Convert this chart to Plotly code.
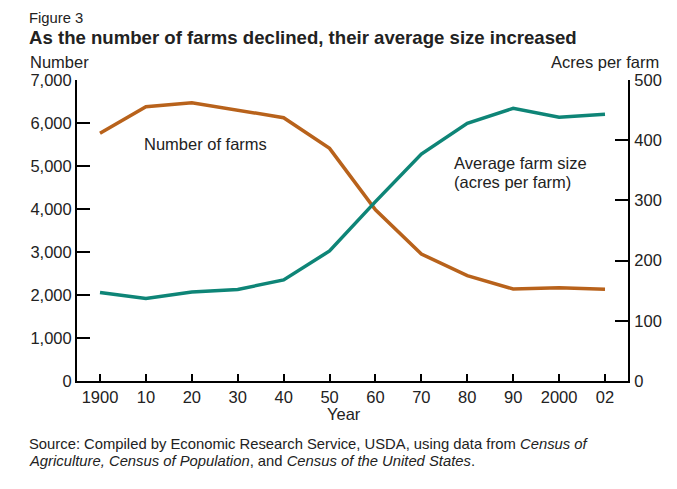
import plotly.graph_objects as go

# data
years = ["1900", "10", "20", "30", "40", "50", "60", "70", "80", "90", "2000", "02"]
farms = [5760, 6379, 6473, 6302, 6124, 5411, 3980, 2953, 2449, 2140, 2170, 2132]
acres = [147, 137, 148, 152, 168, 216, 298, 377, 428, 453, 438, 443]

left_ticks = [0, 1000, 2000, 3000, 4000, 5000, 6000, 7000]
right_ticks = [0, 100, 200, 300, 400, 500]

# page has an 8px body margin, so the figure is drawn 8px smaller and shifted
OFF = 8
W, H = 677 - OFF, 489 - OFF
L, R, T, B = 77 - OFF, 628 - OFF, 80 - OFF, 381 - OFF
FONT = "Liberation Sans, Arial, Helvetica, sans-serif"
INK = "#222"
ORANGE = "#B8621B"
TEAL = "#0E8577"


def px(x):
    return (x - OFF - L) / (R - L)


def py(y):
    return (B - (y - OFF)) / (B - T)


idx = list(range(len(years)))
step = (605 - 100) / 11

fig = go.Figure()
fig.add_trace(go.Scatter(x=idx, y=farms, mode="lines", line=dict(color=ORANGE, width=3.5),
                         yaxis="y", showlegend=False, hoverinfo="skip"))
fig.add_trace(go.Scatter(x=idx, y=acres, mode="lines", line=dict(color=TEAL, width=3.5),
                         yaxis="y2", showlegend=False, hoverinfo="skip"))

axis_common = dict(showgrid=False, zeroline=False, showline=True, linecolor="black", linewidth=2,
                   ticks="inside", ticklen=13, tickwidth=2, tickcolor="black",
                   tickfont=dict(family=FONT, size=16.5, color=INK))

fig.update_layout(
    width=W, height=H,
    margin=dict(l=L, r=W - R, t=T, b=H - B),
    plot_bgcolor="white", paper_bgcolor="white",
    font=dict(family=FONT, color=INK),
    xaxis=dict(axis_common, ticklen=7,
               range=[-(100 - 77) / step, 11 + (628 - 605) / step],
               tickvals=idx, ticktext=years),
    yaxis=dict(axis_common, range=[0, 7000], tickvals=left_ticks, tickformat=",", ticklabelstandoff=0),
    yaxis2=dict(axis_common, range=[0, 500], tickvals=right_ticks, overlaying="y", side="right",
                ticklabelstandoff=1),
)


def note(text, x, y, size=16.5, xanchor="left", yanchor="middle"):
    fig.add_annotation(text=text, xref="paper", yref="paper", x=px(x), y=py(y), showarrow=False,
                       xanchor=xanchor, yanchor=yanchor, align="left",
                       font=dict(family=FONT, size=size, color=INK))


note("Figure 3", 27, 18, size=14.8)
note("<b>As the number of farms declined, their average size increased</b>", 27, 37, size=18.6)
note("Number", 28, 62)
note("Acres per farm", 661, 62, xanchor="right")
note("Year", 344, 414, xanchor="center")
note("Number of farms", 142, 144)
note("Average farm size", 452, 163)
note("(acres per farm)", 452, 182)
note("Source: Compiled by Economic Research Service, USDA, using data from <i>Census of</i>", 27, 444, size=14.8)
note("<i>Agriculture, Census of Population</i>, and <i>Census of the United States</i>.", 27, 461, size=14.8)

fig.write_html("out.html")
